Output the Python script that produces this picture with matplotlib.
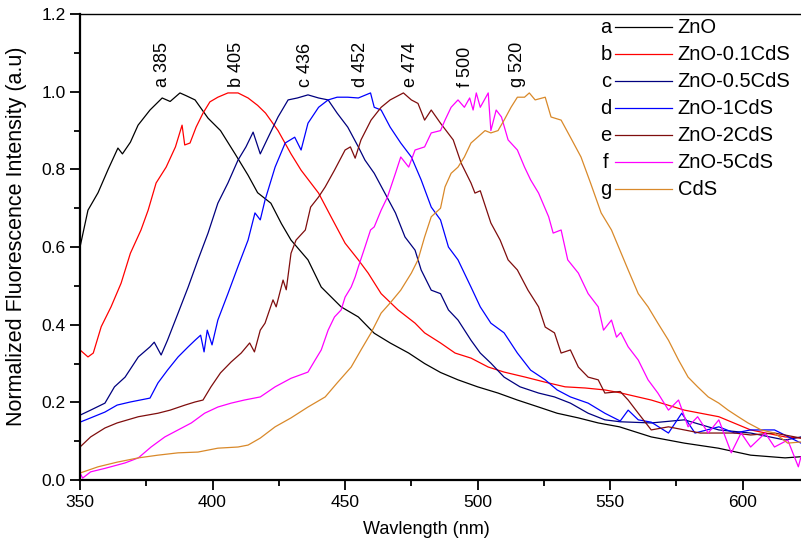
# pl_spectra.py
#
# Normalized fluorescence spectra of ZnO, CdS and the ZnO-xCdS
# composites, with the emission peak of each sample marked above
# its curve.

import matplotlib
matplotlib.use("Agg")
import matplotlib.pyplot as plt
from matplotlib.ticker import MultipleLocator

plt.rcParams['font.family'] = ['Liberation Sans', 'DejaVu Sans']

# sample names, legend letters and peak wavelengths (nm)
letters = ['a', 'b', 'c', 'd', 'e', 'f', 'g']
samples = ['ZnO', 'ZnO-0.1CdS', 'ZnO-0.5CdS', 'ZnO-1CdS',
           'ZnO-2CdS', 'ZnO-5CdS', 'CdS']
peaks = [385, 405, 436, 452, 474, 500, 520]
colors = ['#000000', '#ff0000', '#00007f', '#0000ff',
          '#7f0d0d', '#ff00ff', '#d9892a']

# wavelength (nm) / normalized intensity for each spectrum
wl_a = [350, 353, 356.8, 360.6, 364.3, 366, 369, 371.9, 376.4, 381, 384,
        387.7, 390, 393.4, 398.3, 403, 408.5, 413.4, 417, 422, 426, 429.6,
        436, 441, 448.5, 455, 461, 467, 474, 480, 486, 492.6, 500, 507.7,
        515, 523, 530, 538, 545.5, 553.5, 565.5, 578, 590.8, 603, 616, 622]
int_a = [0.60, 0.695, 0.74, 0.80, 0.855, 0.84, 0.87, 0.914, 0.953, 0.984,
         0.975, 0.997, 0.99, 0.979, 0.932, 0.90, 0.84, 0.785, 0.74, 0.713,
         0.66, 0.618, 0.567, 0.497, 0.446, 0.42, 0.378, 0.353, 0.327, 0.30,
         0.277, 0.258, 0.24, 0.224, 0.206, 0.188, 0.172, 0.16, 0.147,
         0.137, 0.111, 0.095, 0.082, 0.064, 0.057, 0.06]

wl_b = [350, 353, 355, 358, 361.7, 365.5, 369, 373, 375.7, 378.7, 382.5,
        386, 388.5, 389.5, 391.5, 393.8, 396.4, 399, 402, 405.8, 409.6,
        413.4, 417, 420, 424.7, 429.6, 433.4, 440, 444.7, 450, 455, 458.7,
        463.6, 470, 476.4, 480, 486, 491.5, 497.5, 504, 510, 518, 525.5,
        533, 540.6, 548, 553.5, 565.5, 578, 591, 603, 616, 622]
int_b = [0.335, 0.317, 0.327, 0.395, 0.446, 0.507, 0.584, 0.644, 0.695,
         0.765, 0.806, 0.858, 0.914, 0.863, 0.868, 0.909, 0.945, 0.974,
         0.986, 0.997, 0.997, 0.984, 0.965, 0.945, 0.90, 0.84, 0.798,
         0.739, 0.678, 0.61, 0.567, 0.533, 0.48, 0.438, 0.404, 0.379,
         0.353, 0.327, 0.314, 0.291, 0.278, 0.265, 0.252, 0.24, 0.237,
         0.232, 0.225, 0.206, 0.18, 0.163, 0.129, 0.111, 0.108]

wl_c = [350, 354, 359.4, 363, 367, 372, 376.4, 378, 380.6, 383, 387,
        390.8, 394.5, 398.3, 402, 405.8, 409.6, 412.6, 415.3, 418, 421,
        424.7, 428.5, 432, 436, 440, 443.6, 447, 451, 455, 457.5, 461, 465,
        469, 472.6, 476.4, 478.7, 482.5, 486, 489, 492.6, 497.5, 501, 505,
        510, 516, 523, 529, 535, 541.7, 548, 553.8, 565.5, 578, 591, 603,
        616, 622]
int_c = [0.167, 0.18, 0.198, 0.24, 0.265, 0.317, 0.343, 0.355, 0.322,
         0.36, 0.43, 0.497, 0.567, 0.636, 0.713, 0.765, 0.824, 0.858,
         0.896, 0.84, 0.883, 0.935, 0.979, 0.984, 0.992, 0.984, 0.979,
         0.945, 0.909, 0.858, 0.824, 0.79, 0.739, 0.688, 0.626, 0.592,
         0.541, 0.489, 0.48, 0.438, 0.412, 0.36, 0.327, 0.301, 0.265, 0.24,
         0.224, 0.214, 0.198, 0.172, 0.155, 0.15, 0.147, 0.155, 0.129,
         0.121, 0.103, 0.111]

wl_d = [350, 354, 359.4, 364, 369, 376.4, 379.4, 383, 387, 390.8, 393.4,
        395.5, 396.8, 398, 399.8, 402, 405.8, 409.6, 413.4, 416, 418, 419.8,
        423.6, 427.4, 431, 433.4, 436, 440, 443.6, 447, 451, 455, 459.6,
        461, 463.6, 467, 471, 475, 478.7, 482.5, 486, 489, 492.6, 497.5,
        501, 505, 510, 515, 520, 525.5, 530, 535, 541.7, 548, 553.8, 556.8,
        560.6, 565.5, 572, 577, 582, 591, 597, 603, 612, 622]
int_d = [0.149, 0.16, 0.175, 0.193, 0.201, 0.211, 0.25, 0.283, 0.317,
         0.343, 0.36, 0.373, 0.33, 0.386, 0.348, 0.412, 0.48, 0.55, 0.618,
         0.688, 0.67, 0.721, 0.806, 0.868, 0.883, 0.85, 0.919, 0.96, 0.979,
         0.986, 0.986, 0.984, 0.997, 0.96, 0.953, 0.909, 0.868, 0.832,
         0.773, 0.703, 0.67, 0.60, 0.567, 0.497, 0.446, 0.404, 0.379,
         0.327, 0.283, 0.258, 0.232, 0.214, 0.198, 0.172, 0.152, 0.18,
         0.155, 0.149, 0.121, 0.172, 0.121, 0.137, 0.121, 0.129, 0.129,
         0.095]

wl_e = [350, 354, 359.4, 364, 372, 379.4, 384, 389.6, 393.4, 396.4, 399.4,
        403, 407, 410.8, 414, 415.8, 418, 419.8, 422.8, 424, 426.6, 427.8,
        429.6, 431.5, 435, 437, 440, 442.5, 446, 450, 452, 453.8, 456,
        459.8, 463.6, 467, 472, 475, 477.5, 480, 482.5, 486, 490.8, 493.8,
        497.5, 499, 501, 505, 508.5, 511.5, 515, 519, 523, 525.5, 529,
        531.5, 535, 538, 541.7, 545.5, 548, 553.8, 556.8, 560.6, 565.5,
        572, 578, 584, 591, 597, 603, 612, 622]
int_e = [0.085, 0.111, 0.134, 0.147, 0.163, 0.172, 0.18, 0.193, 0.201,
         0.206, 0.24, 0.276, 0.304, 0.327, 0.353, 0.33, 0.386, 0.404,
         0.464, 0.446, 0.515, 0.49, 0.584, 0.618, 0.644, 0.703, 0.729,
         0.755, 0.798, 0.85, 0.858, 0.829, 0.876, 0.927, 0.96, 0.979,
         0.997, 0.979, 0.97, 0.927, 0.953, 0.919, 0.876, 0.816, 0.765,
         0.739, 0.745, 0.662, 0.618, 0.567, 0.541, 0.489, 0.446, 0.394,
         0.379, 0.327, 0.335, 0.291, 0.265, 0.258, 0.224, 0.228, 0.206,
         0.172, 0.129, 0.137, 0.129, 0.121, 0.121, 0.121, 0.116, 0.121,
         0.108]

wl_f = [350, 351, 354, 359.4, 367, 372, 376.8, 382, 387, 392, 397, 402,
        407, 412, 418, 423.6, 429.6, 436, 438.7, 441, 443.6, 446, 448.5,
        450, 452.3, 453.8, 455, 457.5, 459.6, 461, 463.6, 466, 469, 471,
        474, 476.4, 480, 482.5, 486, 487.7, 490, 492.6, 495, 497, 498.3,
        499.5, 501, 504, 505, 507, 509, 511.5, 515, 517.7, 520, 523, 526.8,
        528.5, 531.5, 534, 538, 541.7, 545.5, 547.5, 550.5, 552.4, 554,
        556.8, 560.6, 564.3, 568, 572, 575.8, 579.4, 583, 587, 591, 595.7,
        599.4, 603, 608.5, 612, 617, 621, 622]
int_f = [0.018, 0.005, 0.021, 0.03, 0.044, 0.057, 0.085, 0.111, 0.129,
         0.147, 0.172, 0.188, 0.198, 0.206, 0.214, 0.24, 0.262, 0.278,
         0.309, 0.335, 0.386, 0.42, 0.438, 0.471, 0.497, 0.523, 0.549,
         0.60, 0.644, 0.652, 0.695, 0.729, 0.79, 0.832, 0.806, 0.85, 0.858,
         0.894, 0.90, 0.927, 0.96, 0.979, 0.96, 0.984, 0.953, 0.997, 0.96,
         0.997, 0.90, 0.953, 0.935, 0.876, 0.85, 0.806, 0.773, 0.739,
         0.678, 0.636, 0.644, 0.567, 0.533, 0.48, 0.446, 0.386, 0.412,
         0.368, 0.38, 0.343, 0.309, 0.258, 0.224, 0.18, 0.206, 0.137,
         0.163, 0.121, 0.155, 0.07, 0.121, 0.085, 0.121, 0.085, 0.103,
         0.034, 0.06]

wl_g = [350, 356.8, 364, 372, 379.4, 387, 394.5, 402, 409.6, 413.4, 418,
        423.6, 429.6, 436, 442.5, 447, 452.3, 456, 459.8, 463.6, 467, 471,
        475, 477.5, 480, 482.5, 486, 487.7, 490, 492.6, 495, 497.5, 500,
        502.8, 505, 507.7, 510, 512.6, 515, 517.7, 519.5, 521.7, 525.5,
        527.7, 531.5, 535, 539, 542.6, 546.6, 550.5, 553.8, 556.8, 560.6,
        564.3, 568, 572, 575.8, 579.4, 583, 587, 591, 594.5, 598.3, 602,
        607, 612, 617, 622]
int_g = [0.018, 0.034, 0.046, 0.057, 0.064, 0.07, 0.072, 0.082, 0.085,
         0.09, 0.108, 0.137, 0.16, 0.188, 0.214, 0.25, 0.291, 0.335,
         0.379, 0.43, 0.456, 0.489, 0.533, 0.567, 0.626, 0.678, 0.70,
         0.755, 0.79, 0.806, 0.832, 0.868, 0.883, 0.90, 0.894, 0.90, 0.927,
         0.96, 0.986, 0.986, 0.997, 0.979, 0.986, 0.935, 0.927, 0.883,
         0.832, 0.765, 0.688, 0.644, 0.59, 0.541, 0.48, 0.446, 0.404, 0.36,
         0.309, 0.265, 0.24, 0.214, 0.198, 0.18, 0.163, 0.147, 0.129,
         0.121, 0.095, 0.098]

# where the peak labels sit along the x axis
peak_label_x = [381.3, 408.9, 434.9, 455.7, 474.5, 495.3, 514.9]

spectra = [(wl_a, int_a), (wl_b, int_b), (wl_c, int_c), (wl_d, int_d),
           (wl_e, int_e), (wl_f, int_f), (wl_g, int_g)]

fig = plt.figure(figsize=(8.01, 5.43), dpi=100)
ax = fig.add_axes([0.0999, 0.116, 0.9001, 0.858])

for (wl, inten), c in zip(spectra, colors):
    ax.plot(wl, inten, color=c, lw=0.9)

# peak position labels above each curve
for lx, let, pk in zip(peak_label_x, letters, peaks):
    ax.text(lx, 1.012, f"{let} {pk}", rotation=90, ha='center',
            va='bottom', fontsize=13)

# legend: letter, line sample, sample name
for i, (let, name, c) in enumerate(zip(letters, samples, colors)):
    y = 0.972 - i * 0.058
    ax.text(0.7295, y, let, transform=ax.transAxes, ha='center',
            va='center', fontsize=14.5)
    ax.plot([0.742, 0.821], [y, y], color=c, lw=0.9,
            transform=ax.transAxes)
    ax.text(0.829, y, name, transform=ax.transAxes, ha='left',
            va='center', fontsize=14.5)

ax.set_xlim(350, 622)
ax.set_ylim(0, 1.2)
ax.xaxis.set_major_locator(MultipleLocator(50))
ax.xaxis.set_minor_locator(MultipleLocator(25))
ax.yaxis.set_major_locator(MultipleLocator(0.2))
ax.yaxis.set_minor_locator(MultipleLocator(0.1))
ax.yaxis.set_major_formatter(plt.FormatStrFormatter('%.1f'))

ax.spines['right'].set_visible(False)
ax.spines['left'].set_linewidth(1.6)
ax.spines['bottom'].set_linewidth(1.6)
ax.spines['top'].set_linewidth(1.0)
ax.tick_params(which='major', direction='out', length=7, width=1.3,
               labelsize=12.5, top=False, right=False)
ax.tick_params(which='minor', direction='out', length=4, width=1.3,
               top=False, right=False)

ax.set_xlabel("Wavlength (nm)", fontsize=13)
ax.set_ylabel("Normalized Fluorescence Intensity (a.u)", fontsize=15.5)
ax.xaxis.set_label_coords(0.48, -0.088)
ax.yaxis.set_label_coords(-0.073, 0.524)

fig.savefig("out.png", dpi=100)
plt.close(fig)
